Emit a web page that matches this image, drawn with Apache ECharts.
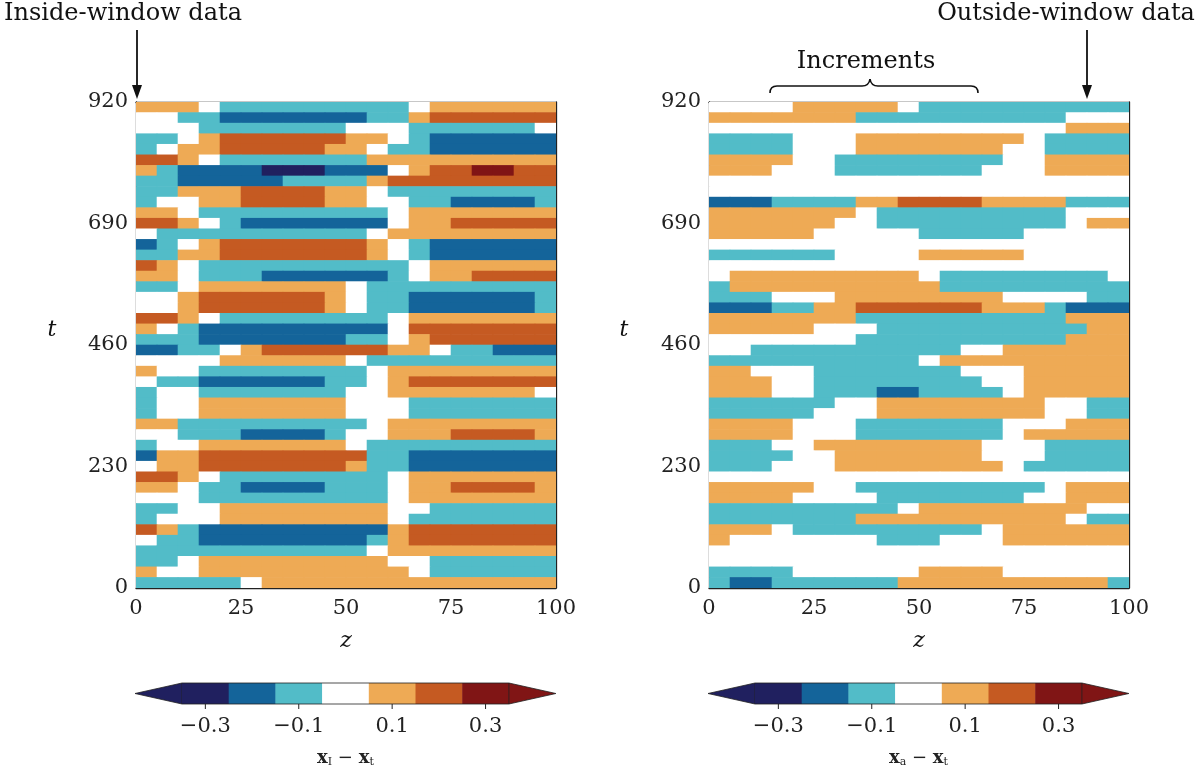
<!DOCTYPE html>
<html><head><meta charset="utf-8">
<script src="https://cdn.jsdelivr.net/npm/echarts@6/dist/echarts.min.js"></script>
<style>html,body{margin:0;background:#fff}#c{width:1200px;height:773px}</style>
</head><body><div id="c"></div>
<script>
// Level codes: A=-3 B=-2 C=-1 .=0 1=1 2=2 3=3 ; rows from t=900-920 (top) down to t=0-20; 20 columns of dz=5
const zTicks = [0, 25, 50, 75, 100];
const tTicks = [0, 230, 460, 690, 920];
const cbarTicks = ['\u22120.3', '\u22120.1', '0.1', '0.3'];
const levelColors = ['#20205f', '#14649a', '#52bcc8', '#ffffff', '#eeaa55', '#c55a22', '#801515'];
const insideRows = [
"111.CCCCCCCCC.111111","..CCBBBBBBBCC1222222","...CCCCCCC...CCCCCC.","CC.122222211.CBBBBBB",
"C.112222211.CCBBBBBB","221.CCCCCCC111111111","1CBBBBAAABBB.1223322","CCBBBBBCCCC122222222",
"CC111222211.CCCCCCCC","C..11222211..CCBBBBC","11.CCCCCCCCC.1111111","221.CBBBBBBB.1122222",
".CCCCCCCCCC.11111111","BC.122222221.CBBBBBB","CC1122222221.CBBBBBB","21.CCCCCCCCCC.111111",
"11.CCCBBBBBBC.112222","CC.1111111.CCCCCCCCC","..12222221.CCBBBBBBC","..12222221.CCBBBBBBC",
"221.CCCCCCCC.1111111","1.CBBBBBBBBB.2222222","CCCBBBBBBBCC.1222222","BBCC.122222211.CCBBB",
"....111111.CCCCCCCCC","1..CCCCCCCC.11111111",".CCBBBBBBCC.12222222","C..CCCCCCC..1111111.",
"C..1111111...CCCCCCC","C..1111111...CCCCCCC","11CCCCCCCCC.11111111","..CCCBBBBC..11122221",
"C..1111111.CCCCCCCCC","B1122222222CCBBBBBBB",".1122222221CCBBBBBBB","221.CCCCCCCC.1111111",
"11.CCBBBBCCC.1122221","...CCCCCCCCC.1111111","CC..11111111..CCCCCC","C...11111111.CCCCCCC",
"21CBBBBBBBBB12222222",".CCBBBBBBBBC12222222","CCCCCCCCCCC.11111111","CC.111111111..CCCCCC",
"1..1111111111.CCCCCC","CCCCC.11111111111111"];
const outsideRows = [
"....11111.CCCCCCCCCC","1111111CCCCCCCCCC...",".................111","CCCC...11111111.CCCC",
"CCCC...1111111..CCCC","1111..CCCCCCCC..1111","111...CCCCCCC...1111","....................",
"....................","BBBCCCC1122221111CCC","1111111.CCCCCCCCC...","111111..CCCCCCCCC.11",
"11111.....CCCCC.....","....................","CCCCCC....11111.....","....................",
".111111111.CCCCCCCC.","C1111111111CCCCCCCCC","CCC...11111111....CC","BBBCC11222222111CBBB",
"1111111CCCCCCCCCC111","11111...CCCCCCCCCC11",".......CCCCCCCCCC111","..CCCCCCCCCC..111111",
"CCCCCCCCCC.111111111","11...CCCCCCC...11111","111..CCCCCCCC..11111","111..CCCBBCCCC.11111",
"CCCCCC..11111111..CC","CCCCC...11111111..CC","1111...CCCCCCC...111","1111...CCCCCCC.11111",
"CCC..11111111...CCCC","CCCC..1111111...CCCC","CCC...11111111.CCCCC","....................",
"11111..CCCCCCCCC.111","1111....CCCCCCC..111","CCCCCCCCC.11111111..","CCCCCCC1111111111.CC",
"111.CCCCCCCCC.111111","1.......CCC...111111","....................","....................",
"CCCC......1111......","CBBCCCCCC1111111111C"];

const code = {A:-3,B:-2,C:-1,'.':0,'1':1,'2':2,'3':3};
function toData(rows){
  const out=[]; const n=rows.length;
  rows.forEach((r,i)=>{ const t0=(n-1-i)*20;
    for(let j=0;j<20;j++){ out.push([j*5,t0,code[r[j]]||0]); } });
  return out;
}
const font='DejaVu Serif';
function render(params, api){
  const z=api.value(0), t=api.value(1), lv=api.value(2);
  const p1=api.coord([z,t+20]), p2=api.coord([z+5,t]);
  return {type:'rect', shape:{x:p1[0]-0.3,y:p1[1]-0.3,width:p2[0]-p1[0]+0.6,height:p2[1]-p1[1]+0.6},
    style:{fill:levelColors[lv+3]}};
}
const axStyle={lineStyle:{color:'#222',width:1.3}};
function xAx(gi,pos,show){return {gridIndex:gi,type:'value',position:pos,min:0,max:100,interval:25,
  axisLine:{show:true,onZero:false,...axStyle},axisTick:{inside:true,length:6,lineStyle:{color:'#222'}},
  splitLine:{show:false},axisLabel:{show:show,fontFamily:font,fontSize:21,color:'#222',margin:10,
  formatter:v=>zTicks.includes(v)?String(v):''}};}
function yAx(gi,pos,show){return {gridIndex:gi,type:'value',position:pos,min:0,max:920,interval:230,
  axisLine:{show:true,onZero:false,...axStyle},axisTick:{inside:true,length:6,lineStyle:{color:'#222'}},
  splitLine:{show:false},axisLabel:{show:show,fontFamily:font,fontSize:21,color:'#222',margin:8,
  formatter:v=>tTicks.includes(v)?String(v):''}};}

const chart=echarts.init(document.getElementById('c'));
const graphics=[];
function colorbar(x0,label){
  const y0=683,y1=704,ym=693.5,w=46.7;
  graphics.push({type:'polygon',shape:{points:[[x0,ym],[x0+47,y0],[x0+47,y1]]},style:{fill:levelColors[0],stroke:'#222',lineWidth:0.8}});
  for(let k=0;k<7;k++){
    graphics.push({type:'rect',shape:{x:x0+47+k*w,y:y0,width:w+0.5,height:y1-y0},style:{fill:levelColors[k]}});
  }
  const xe=x0+47+7*w;
  graphics.push({type:'polygon',shape:{points:[[xe,y0],[xe+47,ym],[xe,y1]]},style:{fill:levelColors[6],stroke:'#222',lineWidth:0.8}});
  graphics.push({type:'polyline',shape:{points:[[x0+47,y0],[xe,y0]]},style:{stroke:'#222',lineWidth:0.8}});
  graphics.push({type:'polyline',shape:{points:[[x0+47,y1],[xe,y1]]},style:{stroke:'#222',lineWidth:0.8}});
  cbarTicks.forEach((s,k)=>{const cx=x0+47+w*(0.5+2*k);
    graphics.push({type:'line',shape:{x1:cx,y1:y1,x2:cx,y2:y1+5},style:{stroke:'#222',lineWidth:1}});
    graphics.push({type:'text',style:{text:s,x:cx,y:727,align:'center',verticalAlign:'middle',font:'21px "DejaVu Serif"',fill:'#222'}});
  });
  graphics.push({type:'text',style:{x:(x0+xe+47)/2,y:758,align:'center',verticalAlign:'middle',
    text:'{b|x}{s|'+label+'}{n| \u2212 }{b|x}{s|t}',
    rich:{b:{fontFamily:font,fontWeight:'bold',fontSize:18,fill:'#222'},s:{fontFamily:font,fontSize:11,fill:'#222',padding:[9,0,0,0]},n:{fontFamily:font,fontSize:18,fill:'#222'}}}});
}
colorbar(135,'I'); colorbar(708,'a');
function arrow(x,ya,yb){graphics.push({type:'line',shape:{x1:x,y1:ya,x2:x,y2:yb-10},style:{stroke:'#111',lineWidth:1.8}});
  graphics.push({type:'polygon',shape:{points:[[x-5,yb-14],[x+5,yb-14],[x,yb]]},style:{fill:'#111'}});}
arrow(137,30,99); arrow(1087,30,99);
const tx=(s,x,y,extra)=>graphics.push({type:'text',style:Object.assign({text:s,x:x,y:y,align:'center',verticalAlign:'middle',font:'24px "DejaVu Serif"',fill:'#111'},extra||{})});
tx('Inside-window data',123,14); tx('Outside-window data',1066,14); tx('Increments',866,62);
tx('t',52,330,{font:'italic 22px "DejaVu Serif"'}); tx('t',624,330,{font:'italic 22px "DejaVu Serif"'});
tx('z',346,641,{font:'italic 22px "DejaVu Serif"'}); tx('z',919,641,{font:'italic 22px "DejaVu Serif"'});
const bs={stroke:'#111',lineWidth:1.6,fill:null};
graphics.push({type:'bezierCurve',shape:{x1:770,y1:93,cpx1:770,cpy1:86,x2:777,y2:86},style:bs});
graphics.push({type:'line',shape:{x1:777,y1:86,x2:862,y2:86},style:bs});
graphics.push({type:'bezierCurve',shape:{x1:862,y1:86,cpx1:869,cpy1:86,x2:870,y2:79},style:bs});
graphics.push({type:'bezierCurve',shape:{x1:870,y1:79,cpx1:871,cpy1:86,x2:878,y2:86},style:bs});
graphics.push({type:'line',shape:{x1:878,y1:86,x2:971,y2:86},style:bs});
graphics.push({type:'bezierCurve',shape:{x1:971,y1:86,cpx1:978,cpy1:86,x2:978,y2:93},style:bs});

chart.setOption({
  animation:false,
  grid:[{left:136,top:102,width:420,height:486},{left:709,top:102,width:420,height:486}],
  xAxis:[xAx(0,'bottom',true),xAx(0,'top',false),xAx(1,'bottom',true),xAx(1,'top',false)],
  yAxis:[yAx(0,'left',true),yAx(0,'right',false),yAx(1,'left',true),yAx(1,'right',false)],
  series:[
    {type:'custom',xAxisIndex:0,yAxisIndex:0,renderItem:render,data:toData(insideRows),clip:true,z:1},
    {type:'custom',xAxisIndex:2,yAxisIndex:2,renderItem:render,data:toData(outsideRows),clip:true,z:1}
  ],
  graphic:graphics
});
</script></body></html>
